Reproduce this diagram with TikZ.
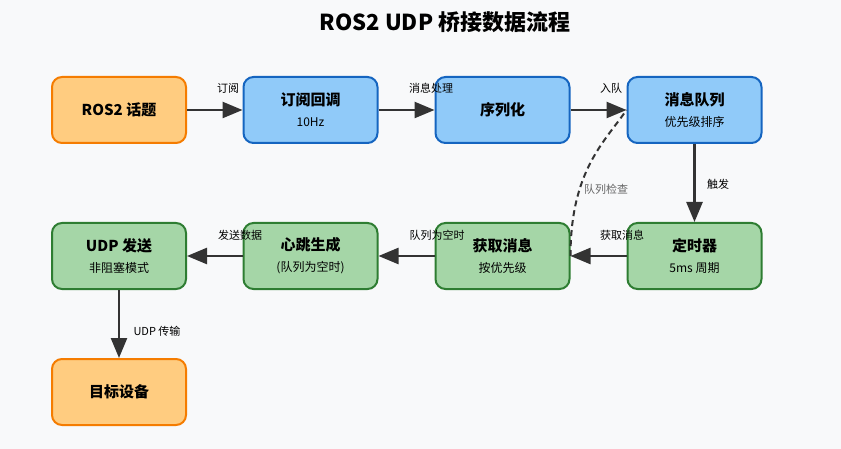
\documentclass[tikz,border=0pt]{standalone}
\usepackage{fontspec}
\setmainfont{Noto Sans CJK SC}
\usetikzlibrary{arrows.meta}
\definecolor{pagebg}{HTML}{F8F9FA}
\definecolor{topicfill}{HTML}{FFCC80}
\definecolor{topicline}{HTML}{F57C00}
\definecolor{procfill}{HTML}{90CAF9}
\definecolor{procline}{HTML}{1565C0}
\definecolor{sendfill}{HTML}{A5D6A7}
\definecolor{sendline}{HTML}{2E7D32}
\definecolor{arrowgray}{HTML}{333333}
\definecolor{notegray}{HTML}{666666}
\newcommand{\boxtext}[2]{{\fontsize{15}{17}\selectfont\bfseries #1}\\[4pt]{\fontsize{12}{14}\selectfont\mdseries #2}}

\begin{document}
\begin{tikzpicture}[x=1pt, y=-1pt,
  box/.style = {shape=rectangle, rounded corners=10pt, line width=2pt,
    minimum width=134pt, minimum height=66pt, inner sep=0pt,
    align=center, text=black, font=\fontsize{15}{17}\selectfont\bfseries},
  topic/.style = {box, draw=topicline, fill=topicfill},
  proc/.style = {box, draw=procline, fill=procfill},
  send/.style = {box, draw=sendline, fill=sendfill},
  flow/.style = {draw=arrowgray, line width=2.5pt,
    -{Triangle[length=20pt, width=16pt]}},
  check/.style = {draw=arrowgray, line width=2pt, dash pattern=on 6pt off 4pt},
  lbl/.style = {font=\fontsize{11}{13}\selectfont, text=black, inner sep=0pt}]

  \fill[pagebg] (0,0) rectangle (841,449);
  \node[font=\fontsize{22}{26}\selectfont\bfseries] (title) at (445,22) {ROS2 UDP 桥接数据流程};

  % upper row
  \node[topic] (ros) at (119,110) {ROS2 话题};
  \node[proc] (sub) at (310.5,110) {\boxtext{订阅回调}{10Hz}};
  \node[proc] (ser) at (502.5,110) {序列化};
  \node[proc] (queue) at (694.5,110) {\boxtext{消息队列}{优先级排序}};

  % lower row
  \node[send] (timer) at (694.5,256) {\boxtext{定时器}{5ms 周期}};
  \node[send] (get) at (502.5,256) {\boxtext{获取消息}{按优先级}};
  \node[send] (beat) at (310.5,256) {\boxtext{心跳生成}{(队列为空时)}};
  \node[send] (udp) at (119,256) {\boxtext{UDP 发送}{非阻塞模式}};
  \node[topic] (dev) at (119,392) {目标设备};

  % dashed check
  \draw[check] (get.east) .. controls +(0,-85) and +(-22,32) .. (queue.west);
  \node[lbl, text=notegray] (checklbl) at (606,189) {队列检查};

  % connectors
  \draw[flow] (ros) -- (sub);
  \draw[flow] (sub) -- (ser);
  \draw[flow] (ser) -- (queue);
  \draw[flow] (queue) -- (timer);
  \draw[flow] (timer) -- (get);
  \draw[flow] (get) -- (beat);
  \draw[flow] (beat) -- (udp);
  \draw[flow] (udp) -- (dev);

  \node[lbl] (l1) at (228,88) {订阅};
  \node[lbl] (l2) at (431,88) {消息处理};
  \node[lbl] (l3) at (611,88) {入队};
  \node[lbl] (l4) at (718,184) {触发};
  \node[lbl] (l5) at (622,235) {获取消息};
  \node[lbl] (l6) at (437,235) {队列为空时};
  \node[lbl] (l7) at (240,235) {发送数据};
  \node[lbl] (l8) at (157,331) {UDP 传输};
\end{tikzpicture}
\end{document}
